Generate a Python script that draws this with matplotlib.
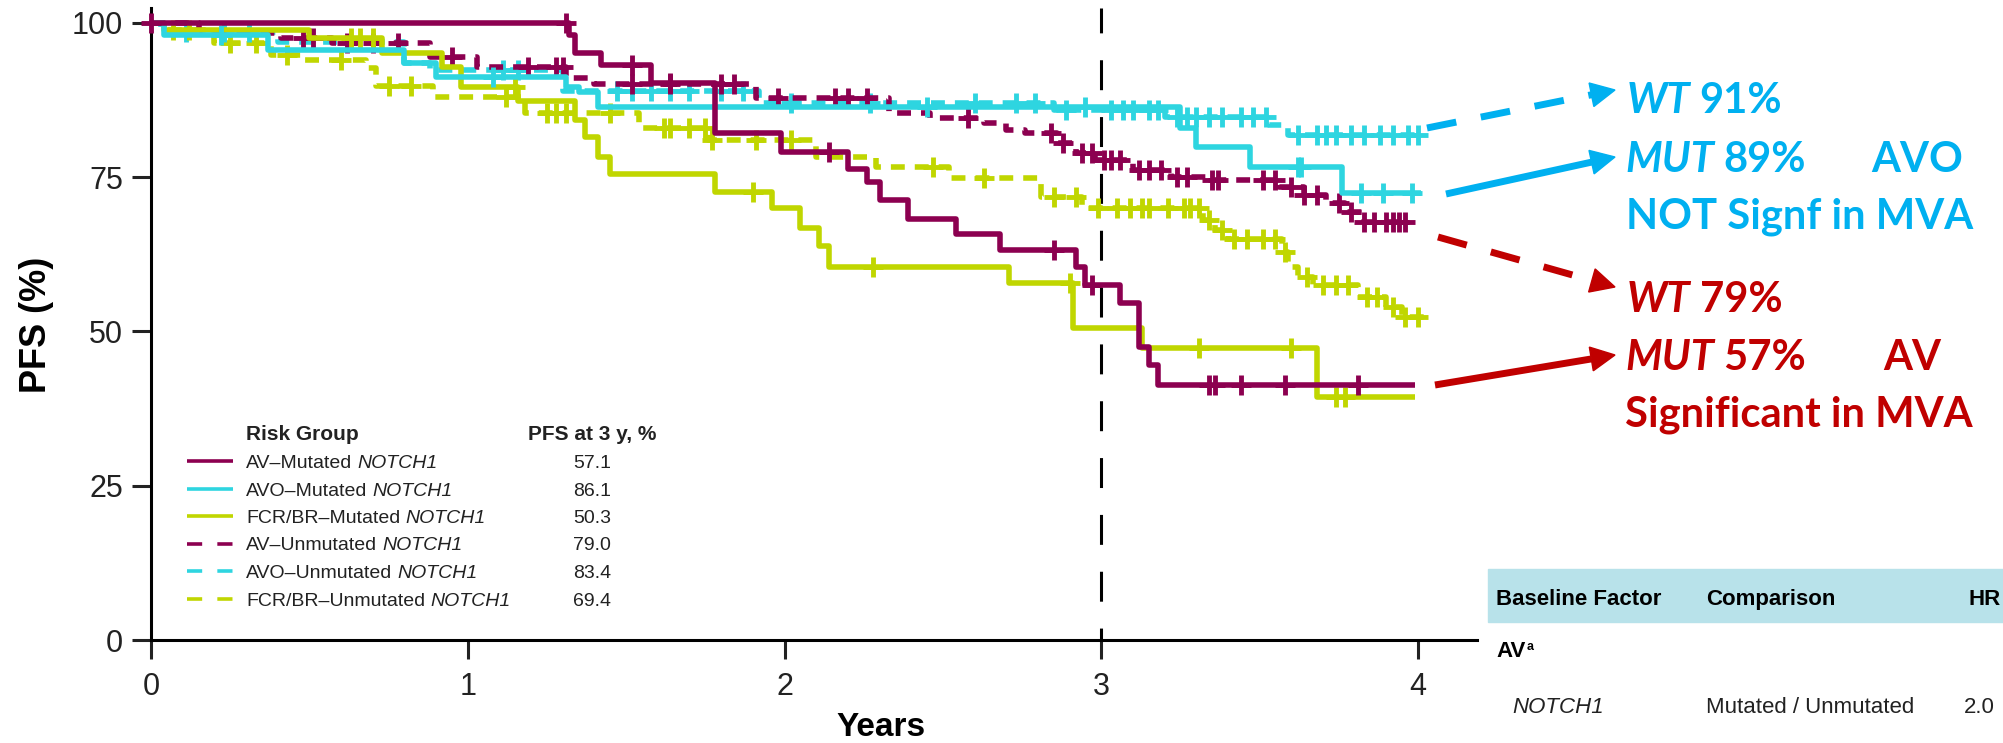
import numpy as np
import matplotlib
matplotlib.use("Agg")
import matplotlib.pyplot as plt
from matplotlib.lines import Line2D
from matplotlib.patches import Polygon, Rectangle

# ---- data (years, PFS %) ----
av_mut_t = [0, 1.32, 1.34, 1.42, 1.58, 1.78, 1.99, 2.20, 2.26, 2.30, 2.39, 2.54, 2.68,
            2.92, 2.95, 3.06, 3.12, 3.15, 3.18, 3.99]
av_mut_s = [100, 98.0, 95.2, 93.2, 90.2, 82.1, 79.1, 76.4, 74.3, 71.3, 68.3, 65.8, 63.2,
            60.5, 57.5, 54.6, 47.5, 44.5, 41.3, 41.3]
av_mut_c = [0.0, 1.31, 1.52, 1.64, 2.14, 2.85, 2.97, 3.34, 3.36, 3.44, 3.58, 3.81]

avo_mut_t = [0, 0.04, 0.37, 0.80, 0.90, 1.31, 1.35, 1.41, 3.25, 3.30, 3.47, 3.76, 4.01]
avo_mut_s = [100, 98.1, 95.6, 93.5, 91.3, 89.6, 88.8, 86.4, 83.0, 79.9, 76.7, 72.4, 72.4]
avo_mut_c = [0.22, 1.08, 2.45, 2.95, 3.62, 3.63, 3.82, 3.89, 3.98]

fcr_mut_t = [0, 0.04, 0.50, 0.73, 0.92, 0.98, 1.16, 1.34, 1.37, 1.41, 1.45, 1.78, 1.96,
             2.05, 2.11, 2.14, 2.71, 2.91, 3.13, 3.68, 3.99]
fcr_mut_s = [100, 98.9, 97.6, 95.1, 92.9, 89.6, 87.3, 84.3, 81.6, 78.3, 75.5, 72.6, 70.0,
             66.7, 63.8, 60.5, 57.8, 50.6, 47.3, 39.4, 39.4]
fcr_mut_c = [0.07, 0.12, 0.63, 0.66, 0.70, 1.15, 1.90, 2.28, 2.90, 3.31, 3.60, 3.74, 3.77]

av_un_t = [0, 0.15, 0.41, 0.57, 0.88, 1.03, 1.31, 1.40, 1.91, 2.33, 2.46, 2.63, 2.70,
           2.76, 2.86, 2.92, 2.98, 3.10, 3.22, 3.34, 3.56, 3.64, 3.71, 3.77, 3.83, 3.97]
av_un_s = [100, 98.4, 97.6, 96.8, 94.5, 92.9, 91.1, 90.1, 87.8, 85.4, 84.6, 83.8, 82.7,
           82.1, 80.5, 78.9, 77.8, 76.2, 75.1, 74.6, 73.5, 72.1, 70.8, 69.4, 67.8, 67.8]
av_un_c = [0.48, 0.51, 0.62, 0.70, 0.78, 0.95, 1.19, 1.28, 1.30, 1.52, 1.64, 1.80, 1.84,
           1.98, 2.16, 2.20, 2.26, 2.58, 2.84, 2.88, 2.94, 2.97, 3.01, 3.03, 3.06, 3.12,
           3.15, 3.19, 3.24, 3.27, 3.35, 3.37, 3.51, 3.55, 3.60, 3.64, 3.68, 3.75, 3.79,
           3.83, 3.86, 3.90, 3.92, 3.94, 3.96]

avo_un_t = [0, 0.03, 0.40, 0.80, 0.88, 1.30, 1.92, 2.85, 3.20, 3.53, 3.59, 4.00]
avo_un_s = [100, 98.6, 97.0, 93.5, 92.4, 89.0, 87.0, 85.9, 84.8, 83.5, 81.8, 81.8]
avo_un_c = [0.11, 0.23, 0.31, 1.11, 1.16, 1.47, 1.52, 1.58, 1.64, 1.70, 1.80, 1.87, 2.02,
            2.27, 2.60, 2.73, 2.79, 2.89, 3.03, 3.07, 3.10, 3.15, 3.18, 3.24, 3.27, 3.30,
            3.34, 3.38, 3.44, 3.48, 3.52, 3.62, 3.68, 3.71, 3.74, 3.79, 3.83, 3.88, 3.92,
            3.97, 4.00]

fcr_un_t = [0, 0.05, 0.20, 0.38, 0.48, 0.68, 0.71, 0.89, 1.18, 1.54, 1.76, 2.10, 2.29,
            2.52, 2.81, 2.94, 3.32, 3.36, 3.40, 3.57, 3.59, 3.62, 3.67, 3.81, 3.90, 3.95, 4.02]
fcr_un_s = [100, 98.8, 96.7, 94.8, 94.0, 92.7, 89.8, 88.0, 85.4, 83.0, 81.0, 78.3, 76.7,
            74.8, 71.8, 70.0, 68.1, 66.4, 65.0, 62.9, 60.5, 58.8, 57.5, 55.6, 54.0, 52.4, 52.4]
fcr_un_c = [0.25, 0.33, 0.43, 0.60, 0.75, 0.82, 1.12, 1.25, 1.28, 1.31, 1.45, 1.62, 1.64,
            1.70, 1.75, 1.77, 1.91, 2.02, 2.47, 2.63, 2.85, 2.92, 2.99, 3.05, 3.09, 3.13,
            3.15, 3.21, 3.26, 3.28, 3.31, 3.34, 3.38, 3.42, 3.46, 3.51, 3.55, 3.58, 3.65,
            3.70, 3.74, 3.78, 3.84, 3.87, 3.92, 3.96, 4.00]

group_names = ["AV\u2013Mutated", "AVO\u2013Mutated", "FCR/BR\u2013Mutated",
               "AV\u2013Unmutated", "AVO\u2013Unmutated", "FCR/BR\u2013Unmutated"]
pfs_3y = ["57.1", "86.1", "50.3", "79.0", "83.4", "69.4"]

MAROON = "#8C0050"
CYAN = "#2ED5E0"
GREEN = "#C0D600"
BLUE_TXT = "#00B0F0"
RED_TXT = "#C00000"

series = [
    (av_mut_t, av_mut_s, av_mut_c, MAROON, False),
    (avo_mut_t, avo_mut_s, avo_mut_c, CYAN, False),
    (fcr_mut_t, fcr_mut_s, fcr_mut_c, GREEN, False),
    (av_un_t, av_un_s, av_un_c, MAROON, True),
    (avo_un_t, avo_un_s, avo_un_c, CYAN, True),
    (fcr_un_t, fcr_un_s, fcr_un_c, GREEN, True),
]

W, H = 2003, 743
plt.rcParams["font.family"] = ["Liberation Sans", "DejaVu Sans"]
fig = plt.figure(figsize=(W / 100, H / 100), dpi=100)
renderer = fig.canvas.get_renderer()


def fpos(x, y):
    # pixel position (origin top-left) -> figure fraction
    return x / W, 1 - y / H


ax = fig.add_axes([151 / W, 1 - 640 / H, (1477 - 151) / W, (640 - 8) / H])
ax.set_xlim(0, 1326 / 316.75)
ax.set_ylim(0, 632 / 6.17)


def value_at(times, surv, t):
    i = np.searchsorted(times, t, side="right") - 1
    return surv[i]


# dashed groups underneath, then solid ones
order = [5, 4, 3, 2, 1, 0]
for k in order:
    t, s, c, col, dashed = series[k]
    ls = (0, (2.5, 1.8)) if dashed else "-"
    z = 2 if dashed else 3
    ax.step(t, s, where="post", color=col, lw=4, linestyle=ls, zorder=z,
            solid_capstyle="butt", clip_on=False)
    cy = [value_at(t, s, x) for x in c]
    ax.plot(c, cy, linestyle="none", marker="+", ms=14, mew=3.5, color=col,
            zorder=z, clip_on=False)

ax.axvline(3, color="black", lw=2.2, linestyle=(5.9, (9.8, 8.8)), zorder=1)

for sp in ["top", "right"]:
    ax.spines[sp].set_visible(False)
for sp in ["left", "bottom"]:
    ax.spines[sp].set_linewidth(2.2)
ax.set_xticks([0, 1, 2, 3, 4])
ax.set_yticks([0, 25, 50, 75, 100])
ax.tick_params(axis="both", length=14, width=2.2, labelsize=22, colors="#222222")
ax.tick_params(axis="y", pad=6)
ax.tick_params(axis="x", pad=9)

fig.text(*fpos(36, 325), "PFS (%)", rotation=90, ha="center", va="center",
         fontsize=26, fontweight="bold")
fig.text(*fpos(881, 736), "Years", ha="center", va="baseline",
         fontsize=24, fontweight="bold")


def put_parts(x, y, parts, size, color="#222222", family=None, gap=0):
    # consecutive text runs on one baseline, each with its own style
    for s, style, weight in parts:
        kw = {}
        if family:
            kw["family"] = family
        t = fig.text(*fpos(x, y), s, ha="left", va="baseline", fontsize=size,
                     fontstyle=style, fontweight=weight, color=color, **kw)
        x += t.get_window_extent(renderer).width + gap
    return x


# ---- legend drawn by hand ----
put_parts(246, 440, [("Risk Group", "normal", "bold")], 15)
put_parts(528, 440, [("PFS at 3 y, %", "normal", "bold")], 15)
row_base = [468, 495.5, 523, 550.5, 578, 605.5]
for k in range(6):
    col = series[k][3]
    dashed = series[k][4]
    yb = row_base[k]
    x0, y0 = fpos(187, yb - 7)
    x1, _ = fpos(233, yb - 7)
    fig.add_artist(Line2D([x0, x1], [y0, y0], color=col, lw=2.6,
                          linestyle=(0, (4.2, 4.2)) if dashed else "-",
                          solid_capstyle="butt", dash_capstyle="butt"))
    put_parts(246, yb, [(group_names[k], "normal", "normal"),
                        ("NOTCH1", "italic", "normal")], 14, gap=5)
    put_parts(573, yb, [(pfs_3y[k], "normal", "normal")], 14)

# ---- annotations on the right ----
ann_font = "Lato"
probe = fig.text(0, 0, "NOT Signf in MVA", fontsize=30, fontweight="bold", family=ann_font)
ann_size = 30 * 347 / probe.get_window_extent(renderer).width
probe.remove()
sp_gap = ann_size * 0.3

put_parts(1627, 113, [("WT", "italic", "bold"), ("91%", "normal", "bold")],
          ann_size, BLUE_TXT, ann_font, gap=sp_gap)
put_parts(1625, 172, [("MUT", "italic", "bold"), ("89%", "normal", "bold")],
          ann_size, BLUE_TXT, ann_font, gap=sp_gap)
put_parts(1871, 172, [("AVO", "normal", "bold")], ann_size, BLUE_TXT, ann_font)
put_parts(1626, 228, [("NOT Signf in MVA", "normal", "bold")], ann_size, BLUE_TXT, ann_font)
put_parts(1627, 312, [("WT", "italic", "bold"), ("79%", "normal", "bold")],
          ann_size, RED_TXT, ann_font, gap=sp_gap)
put_parts(1625, 370, [("MUT", "italic", "bold"), ("57%", "normal", "bold")],
          ann_size, RED_TXT, ann_font, gap=sp_gap)
put_parts(1883, 370, [("AV", "normal", "bold")], ann_size, RED_TXT, ann_font)
put_parts(1625, 427, [("Significant in MVA", "normal", "bold")], ann_size, RED_TXT, ann_font)


def arrow(xa, ya, xb, yb, color, dashed):
    d = np.array([xb - xa, yb - ya], dtype=float)
    d /= np.hypot(*d)
    n = np.array([-d[1], d[0]])
    tip = np.array([xb, yb], dtype=float)
    base = tip - 24 * d
    p0 = fpos(xa, ya)
    p1 = fpos(*base)
    fig.add_artist(Line2D([p0[0], p1[0]], [p0[1], p1[1]], color=color, lw=5,
                          linestyle=(0, (4.3, 3.6)) if dashed else "-",
                          solid_capstyle="butt", dash_capstyle="butt"))
    pts = [fpos(*tip), fpos(*(base + 12 * n)), fpos(*(base - 12 * n))]
    fig.add_artist(Polygon(pts, closed=True, color=color, transform=fig.transFigure))


arrow(1427, 128, 1615, 90, BLUE_TXT, True)
arrow(1446, 194, 1615, 157, BLUE_TXT, False)
arrow(1438, 237, 1615, 287, RED_TXT, True)
arrow(1435, 385, 1615, 355, RED_TXT, False)

# ---- partial multivariate table, bottom right ----
fig.add_artist(Rectangle(fpos(1488, 622), (W - 1488) / W, (622 - 569) / H,
                         transform=fig.transFigure, color="#B8E2EA", zorder=0))
put_parts(1496, 605, [("Baseline Factor", "normal", "bold")], 16, "black")
put_parts(1706, 605, [("Comparison", "normal", "bold")], 16, "black")
put_parts(1968, 605, [("HR", "normal", "bold")], 16, "black")
xe = put_parts(1496, 657, [("AV", "normal", "bold")], 16, "black")
put_parts(xe + 1, 650, [("a", "normal", "bold")], 9, "black")
put_parts(1512, 713, [("NOTCH1", "italic", "normal")], 16, "#222222")
put_parts(1706, 713, [("Mutated / Unmutated", "normal", "normal")], 16, "#222222")
put_parts(1964, 713, [("2.0", "normal", "normal")], 16, "#222222")

fig.savefig("out.png", dpi=100)
